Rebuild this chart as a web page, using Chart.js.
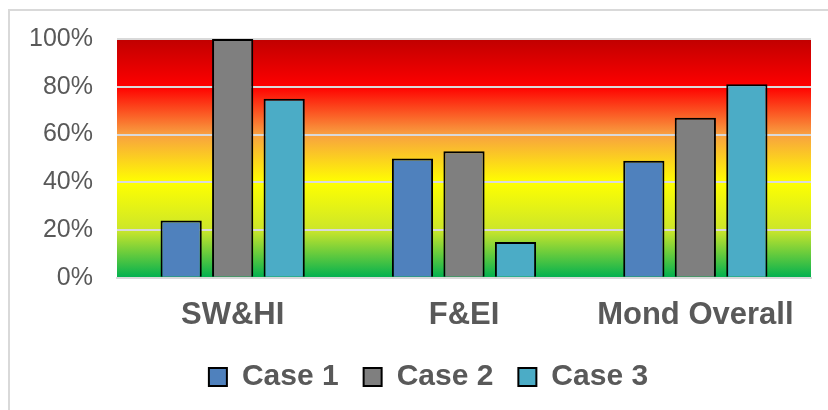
<!DOCTYPE html>
<html>
<head>
<meta charset="utf-8">
<script src="https://cdn.jsdelivr.net/npm/chart.js@4"></script>
<style>
  html, body { margin: 0; padding: 0; background: #fff; }
  #wrap { width: 828px; height: 410px; position: relative; }
</style>
</head>
<body>
<div id="wrap"><canvas id="chart"></canvas></div>
<script>
// data (percent)
const categories = ['SW&HI', 'F&EI', 'Mond Overall']
const seriesNames = ['Case 1', 'Case 2', 'Case 3']
const case1 = [24, 50, 49]
const case2 = [100, 53, 67]
const case3 = [75, 15, 81]
const yTicks = [0, 20, 40, 60, 80, 100]

const colors = ['#4F81BD', '#7F7F7F', '#4BACC6']
const TEXT = '#595959'
const GRID = '#D9D9D9'

// red -> yellow -> green background behind the bars
const bgGradient = {
  id: 'bgGradient',
  afterLayout(chart) {
    // nudge the legend to where it sits in the original
    const lg = chart.legend
    lg.left += 18; lg.right += 18
    lg.top -= 16; lg.bottom -= 16
  },
  beforeDraw(chart) {
    const { ctx, chartArea: a } = chart
    const g = ctx.createLinearGradient(0, a.top, 0, a.bottom)
    g.addColorStop(0, '#C00000')
    g.addColorStop(0.2, '#FF0000')
    g.addColorStop(0.4, '#F8A040')
    g.addColorStop(0.6, '#FFFF00')
    g.addColorStop(0.8, '#CCE62A')
    g.addColorStop(1, '#00B050')
    ctx.save()
    ctx.fillStyle = g
    ctx.fillRect(a.left, a.top, a.right - a.left, a.bottom - a.top)
    ctx.restore()
  },
  afterDraw(chart) {
    // outer frame (only top and left visible)
    const ctx = chart.ctx
    ctx.save()
    ctx.strokeStyle = GRID
    ctx.lineWidth = 2
    ctx.beginPath()
    ctx.moveTo(9, 410)
    ctx.lineTo(9, 10)
    ctx.lineTo(828, 10)
    ctx.stroke()
    ctx.restore()
  }
}

const datasets = [case1, case2, case3].map((vals, i) => ({
  label: seriesNames[i],
  data: vals,
  backgroundColor: colors[i],
  borderColor: '#000',
  borderWidth: 2,
  categoryPercentage: 0.668,
  barPercentage: 0.8
}))

const chart = new Chart(document.getElementById('chart'), {
  type: 'bar',
  data: { labels: categories, datasets },
  options: {
    responsive: true,
    maintainAspectRatio: false,
    animation: false,
    devicePixelRatio: 1,
    layout: { padding: { left: 10, right: 17, top: 38, bottom: -8 } },
    plugins: {
      tooltip: { enabled: false },
      legend: {
        position: 'bottom',
        labels: {
          color: TEXT,
          font: { family: 'Liberation Sans, Arial', size: 30, weight: 'bold' },
          boxWidth: 18,
          boxHeight: 18,
          padding: 25
        }
      }
    },
    scales: {
      x: {
        grid: { display: false, drawTicks: false },
        border: { display: true, color: GRID, width: 2 },
        ticks: {
          color: TEXT,
          padding: 19,
          font: { family: 'Liberation Sans, Arial', size: 31, weight: 'bold' }
        }
      },
      y: {
        min: 0,
        max: 100,
        afterBuildTicks(scale) { scale.ticks = yTicks.map(v => ({ value: v })) },
        afterFit(scale) { scale.width = 107 },
        grid: { color: GRID, lineWidth: 2, drawTicks: false },
        border: { display: false },
        ticks: {
          color: TEXT,
          padding: 24,
          font: { family: 'Liberation Sans, Arial', size: 25 },
          callback: v => v + '%'
        }
      }
    }
  },
  plugins: [bgGradient]
})
</script>
</body>
</html>
